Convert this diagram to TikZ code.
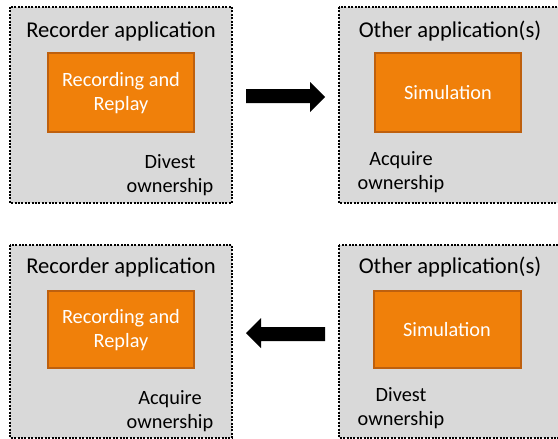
\documentclass[tikz,border=0pt]{standalone}
\usepackage{fontspec}
\setmainfont{Carlito}
\definecolor{panelgray}{RGB}{217,217,217}
\definecolor{boxorange}{RGB}{240,128,10}
\definecolor{boxedge}{RGB}{190,96,14}
\begin{document}
\begin{tikzpicture}[x=1pt,y=-1pt,
  panel/.style={draw=black,fill=panelgray,line width=2pt,dash pattern=on 2pt off 1.4pt},
  appbox/.style={draw=boxedge,fill=boxorange,line width=1.8pt},
  boxtext/.style={text=white,font=\fontsize{20.3}{24}\selectfont,align=center},
  title/.style={font=\fontsize{22.6}{26}\selectfont},
  note/.style={font=\fontsize{20.3}{24}\selectfont,align=center},
  blockarrow/.style={fill=black}]
\useasboundingbox (0,0) rectangle (558,439);
% top row: recorder hands ownership over
\draw[panel] (10,7) rectangle (232,203);
\draw[panel] (339,7) rectangle (570,203);
\draw[appbox] (48,53) rectangle (194,132);
\draw[appbox] (375,53) rectangle (521,132);
\node[boxtext] (rr1) at (121,93) {Recording and\\Replay};
\node[boxtext] (sim1) at (448,93) {Simulation};
\node[title] (rec1) at (121,31) {Recorder application};
\node[title] (oth1) at (450,31) {Other application(s)};
\node[note] (div1) at (170,175) {Divest\\ownership};
\node[note] (acq1) at (401,172) {Acquire\\ownership};
\fill[blockarrow] (246,89) -- (310,89) -- (310,82) -- (325,97) -- (310,112) -- (310,103) -- (246,103) -- cycle;
% bottom row: ownership comes back
\draw[panel] (10,245) rectangle (232,438);
\draw[panel] (339,245) rectangle (570,438);
\draw[appbox] (48,291) rectangle (194,368);
\draw[appbox] (374,291) rectangle (521,368);
\node[boxtext] (rr2) at (121,330) {Recording and\\Replay};
\node[boxtext] (sim2) at (447,330) {Simulation};
\node[title] (rec2) at (121,267) {Recorder application};
\node[title] (oth2) at (450,267) {Other application(s)};
\node[note] (acq2) at (170,411) {Acquire\\ownership};
\node[note] (div2) at (401,408) {Divest\\ownership};
\fill[blockarrow] (325,327) -- (261,327) -- (261,318) -- (246,333) -- (261,348) -- (261,341) -- (325,341) -- cycle;
\end{tikzpicture}
\end{document}
